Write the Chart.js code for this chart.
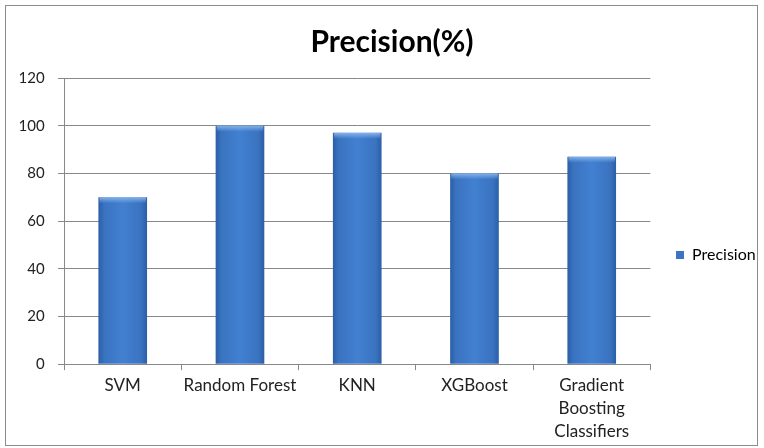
<!DOCTYPE html>
<html><head><meta charset="utf-8">
<script src="https://cdn.jsdelivr.net/npm/chart.js@4"></script>
<style>html,body{margin:0;padding:0;background:#fff}#wrap{width:764px;height:448px;position:relative}</style>
</head><body><div id="wrap"><canvas id="c" width="764" height="448"></canvas></div>
<script>
const categories = ["SVM", "Random Forest", "KNN", "XGBoost", ["Gradient", "Boosting", "Classifiers"]];
const precision = [70, 100, 97, 80, 87];
const yTicks = [0, 20, 40, 60, 80, 100, 120];

const FONT = "Lato, 'Liberation Sans', sans-serif";

function barFill(ctx) {
  const chart = ctx.chart;
  const meta = chart.getDatasetMeta(ctx.datasetIndex);
  const el = meta && meta.data[ctx.dataIndex];
  if (!el || !el.width) return '#3b78c8';
  const x0 = el.x - el.width / 2, x1 = el.x + el.width / 2;
  const g = chart.ctx.createLinearGradient(x0, 0, x1, 0);
  g.addColorStop(0, '#2b5ea6');
  g.addColorStop(0.12, '#3a73c0');
  g.addColorStop(0.5, '#4280d1');
  g.addColorStop(0.88, '#3a73c0');
  g.addColorStop(1, '#2b5ea6');
  return g;
}

const framePlugin = {
  id: 'frame',
  afterLayout(chart) {
    const lg = chart.legend;
    if (lg) {
      const w = lg.right - lg.left, h = lg.bottom - lg.top;
      lg.left = 666; lg.right = lg.left + w;
      lg.top = 255 - h / 2; lg.bottom = lg.top + h;
    }
    const tb = chart.titleBlock;
    if (tb) {
      const mid = (tb.left + tb.right) / 2, d = 392 - mid;
      tb.left += d; tb.right += d;
    }
  },
  afterDraw(chart) {
    const c = chart.ctx;
    c.save();
    c.strokeStyle = '#8c8c8c';
    c.lineWidth = 1;
    c.strokeRect(5.5, 5.5, 752, 440);
    const meta = chart.getDatasetMeta(0);
    meta.data.forEach(el => {
      const x0 = el.x - el.width / 2;
      const g = c.createLinearGradient(0, el.y, 0, el.y + 6);
      g.addColorStop(0, 'rgba(140,185,240,0.9)');
      g.addColorStop(1, 'rgba(140,185,240,0)');
      c.fillStyle = g;
      c.fillRect(x0 + 1, el.y, el.width - 2, 6);
    });
    c.restore();
  }
};

const chart = new Chart(document.getElementById('c'), {
  type: 'bar',
  data: {
    labels: categories,
    datasets: [{
      label: 'Precision',
      data: precision,
      backgroundColor: barFill,
      borderWidth: 0,
      barPercentage: 0.83,
      categoryPercentage: 0.5
    }]
  },
  options: {
    responsive: false,
    animation: false,
    devicePixelRatio: 1,
    layout: { padding: { left: 5, right: 14, top: 0, bottom: 1 } },
    plugins: {
      title: {
        display: true,
        text: 'Precision(%)',
        color: '#000',
        font: { family: FONT, size: 30, weight: 'bold', lineHeight: 1.2 },
        padding: { top: 24, bottom: 18 }
      },
      legend: {
        position: 'right',
        labels: {
          boxWidth: 8, boxHeight: 8, color: '#222',
          font: { family: FONT, size: 16 },
          padding: 10,
          generateLabels(chart) {
            return [{ text: 'Precision', fillStyle: '#3a74c2', strokeStyle: '#2a5594', lineWidth: 0, datasetIndex: 0 }];
          }
        }
      },
      tooltip: { enabled: false }
    },
    scales: {
      x: {
        grid: { drawOnChartArea: false, offset: true, tickLength: 6, color: '#888' },
        border: { color: '#888' },
        ticks: { color: '#222', font: { family: FONT, size: 17, lineHeight: 1.35 }, padding: 4, maxRotation: 0, autoSkip: false }
      },
      y: {
        min: 0, max: 120,
        afterBuildTicks(scale) { scale.ticks = yTicks.map(v => ({ value: v })); },
        grid: { color: '#888', tickLength: 6 },
        border: { color: '#888' },
        ticks: { color: '#222', font: { family: FONT, size: 15 }, padding: 13.5 }
      }
    }
  },
  plugins: [framePlugin]
});
chart.update();
</script></body></html>
